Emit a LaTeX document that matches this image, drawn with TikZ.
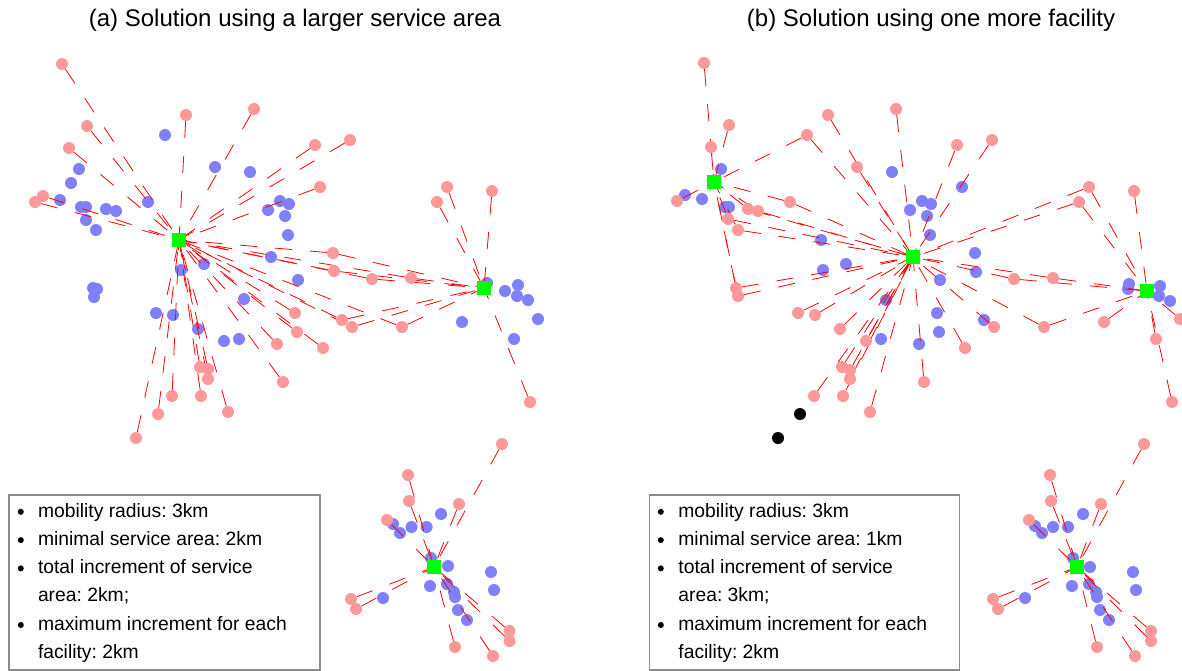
\documentclass[tikz,border=0pt]{standalone}
\usepackage{fontspec}
\setmainfont{Liberation Sans}
\frenchspacing
\pgfdeclarelayer{blayer}
\pgfdeclarelayer{llayer}
\pgfsetlayers{blayer,llayer,main}
\definecolor{pinkpt}{RGB}{255,153,153}
\definecolor{bluept}{RGB}{128,128,255}
\definecolor{facgreen}{RGB}{0,255,0}
\definecolor{boxgray}{RGB}{140,140,140}
\tikzset{
  cust/.style={circle,inner sep=0pt,minimum size=12pt,draw=none},
  bluecust/.style={cust,fill=bluept},
  pinkcust/.style={cust,fill=pinkpt},
  blackcust/.style={cust,fill=black},
  facility/.style={rectangle,inner sep=0pt,minimum size=13.5pt,fill=facgreen,draw=none},
  link/.style={red,line width=0.8pt,dash pattern=on 17pt off 18pt},
  titletext/.style={font=\fontsize{24}{28}\selectfont,anchor=base,inner sep=0pt},
  legbox/.style={draw=boxgray,line width=1.5pt,rectangle,inner sep=0pt,anchor=north west},
  legtext/.style={font=\fontsize{19.3}{23}\selectfont,anchor=base west,inner sep=0pt},
  bullet/.style={circle,fill=black,inner sep=0pt,minimum size=6pt}
}
\begin{document}
\begin{tikzpicture}[x=1pt,y=-1pt]
\useasboundingbox (0,0) rectangle (1182,670);

% ---------- titles ----------
\node[titletext] (ta) at (295,26) {(a) Solution using a larger service area};
\node[titletext] (tb) at (931,26) {(b) Solution using one more facility};

% ---------- left panel ----------
\node[facility] (LF1) at (179,240) {};
\node[facility] (LF2) at (484,288) {};
\node[facility] (LF3) at (434,567) {};

\begin{pgfonlayer}{blayer}
\foreach [count=\i] \x/\y in {165/135,79/169,71/183,215/167,250/172,60/200,81/207,86/207,106/209,116/211,86/220,96/230,148/202,268/210,280/201,289/204,285/216,288/235,271/257,204/264,181/270,298/280,487/283,505/291,518/285,517/296,528/300,538/319,462/322,514/339,93/288,97/289,94/297,244/299,156/313,173/315,198/329,224/341,239/339,441/514,393/524,400/533,411.5/527,426.6/527,431/558,448/566,491/572,430/586,447/584,454/592,455/597,494/590,383/598,458/610,467/620}
  \node[bluecust] (lb\i) at (\x,\y) {};
\end{pgfonlayer}

\foreach [count=\i] \x/\y in {62/64,186/115,254/109,87/126,69/148,43/196,35/202,315/145,350/140,320/187,447/187,492/191,437/202,333/253,334/271,372/279,411/278,295/313,297/332,342/320,352/327,402/327,323/348,277/344,283/382,530/402,502/444,200/367,208/369,208/379,172/396,201/396,228/412,158/414,136/438,408/475,409/501,459/504,387/520,351/599,356/609,509.5/631,509.5/641,455/647,493/656}
  \node[pinkcust] (a\i) at (\x,\y) {};

\begin{pgfonlayer}{llayer}
\foreach \p/\f in {a1/LF1,a2/LF1,a3/LF1,a4/LF1,a5/LF1,a6/LF1,a7/LF1,a8/LF1,a9/LF1,a10/LF1,a14/LF1,a15/LF1,a16/LF1,a17/LF1,a18/LF1,a19/LF1,a20/LF1,a21/LF1,a22/LF1,a23/LF1,a24/LF1,a25/LF1,a28/LF1,a29/LF1,a30/LF1,a31/LF1,a32/LF1,a33/LF1,a34/LF1,a35/LF1,
  a11/LF2,a12/LF2,a13/LF2,a14/LF2,a15/LF2,a16/LF2,a17/LF2,a20/LF2,a21/LF2,a22/LF2,a26/LF2,
  a27/LF3,a36/LF3,a37/LF3,a38/LF3,a39/LF3,a40/LF3,a41/LF3,a42/LF3,a43/LF3,a44/LF3,a45/LF3}
  \draw[link] (\p) -- (\f);
\end{pgfonlayer}

\node[legbox,minimum width=311pt,minimum height=175pt] (legA) at (8,494) {};
\node[bullet] (ba1) at (20.8,511.8) {};
\node[legtext] (la1) at (37.8,517) {mobility radius: 3km};
\node[bullet] (ba2) at (20.8,540.1) {};
\node[legtext] (la2) at (37.8,545.3) {minimal service area: 2km};
\node[bullet] (ba3) at (20.8,568.4) {};
\node[legtext] (la3) at (37.8,573.6) {total increment of service};
\node[legtext] (la4) at (37.8,601.9) {area: 2km;};
\node[bullet] (ba5) at (20.8,625) {};
\node[legtext] (la5) at (37.8,630.2) {maximum increment for each};
\node[legtext] (la6) at (37.8,658.5) {facility: 2km};

% ---------- right panel ----------
\node[facility] (RG1) at (714,182) {};
\node[facility] (RG2) at (913,257) {};
\node[facility] (RG3) at (1147,291) {};
\node[facility] (RG4) at (1077,567) {};

\begin{pgfonlayer}{blayer}
\foreach [count=\i] \x/\y in {721/169,892/172,685/195,702/199,725/207,729/207,910/210,922/201,931/204,927/216,930/235,846/264,823/270,821/240,962/187,975/253,976/272,940/280,1129/284,1128/289,1160/286,1159/296,1170/301,937/313,939/332,984/320,919/344,886/300,881/339,1083/514,1035/526,1042/533,1053/527,1068/527,1073/558,1090/567,1133/572,1072/586,1089/584,1096/592,1097/597,1136/590,1025/598,1100/610,1109/620}
  \node[bluecust] (rb\i) at (\x,\y) {};
\end{pgfonlayer}

\foreach [count=\i] \x/\y in {704/63,828/115,896/109,729/125,711/147,807/135,857/167,677/201,748/209,758/211,728/219,738/230,790/202,957/145,992/140,1089/187,1134/191,1079/202,1014/279,1053/278,1180/319,1104/322,1156/339,994/327,1044/327,965/348,924/382,1172/402,1144/444,736/288,738/296,798/313,815/315,840/329,866/341,842/367,850/370,850/379,814/396,843/396,870/412,1050/475,1051/501,1101/504,1029/520,993/599,998/609,1151/631,1151/641,1097/647,1135/656}
  \node[pinkcust] (c\i) at (\x,\y) {};

\node[blackcust] (k1) at (800,414) {};
\node[blackcust] (k2) at (778,438) {};

\begin{pgfonlayer}{llayer}
\foreach \p/\f in {c1/RG1,c4/RG1,c5/RG1,c6/RG1,c8/RG1,c9/RG1,c10/RG1,c11/RG1,c12/RG1,c13/RG1,c30/RG1,c31/RG1,
  c2/RG2,c3/RG2,c6/RG2,c7/RG2,c9/RG2,c10/RG2,c11/RG2,c12/RG2,c13/RG2,c14/RG2,c15/RG2,c16/RG2,c18/RG2,c19/RG2,c20/RG2,c24/RG2,c25/RG2,c26/RG2,c27/RG2,c30/RG2,c31/RG2,c32/RG2,c33/RG2,c34/RG2,c35/RG2,c36/RG2,c37/RG2,c38/RG2,c39/RG2,c40/RG2,c41/RG2,
  c16/RG3,c17/RG3,c18/RG3,c19/RG3,c20/RG3,c21/RG3,c22/RG3,c23/RG3,c25/RG3,c28/RG3,
  c29/RG4,c42/RG4,c43/RG4,c44/RG4,c45/RG4,c46/RG4,c47/RG4,c48/RG4,c49/RG4,c50/RG4,c51/RG4}
  \draw[link] (\p) -- (\f);
\end{pgfonlayer}

\node[legbox,minimum width=310pt,minimum height=175pt] (legB) at (648.7,494) {};
\node[bullet] (bb1) at (660.8,511.8) {};
\node[legtext] (lb1t) at (678.2,517) {mobility radius: 3km};
\node[bullet] (bb2) at (660.8,540.1) {};
\node[legtext] (lb2t) at (678.2,545.3) {minimal service area: 1km};
\node[bullet] (bb3) at (660.8,568.4) {};
\node[legtext] (lb3t) at (678.2,573.6) {total increment of service};
\node[legtext] (lb4t) at (678.2,601.9) {area: 3km;};
\node[bullet] (bb5) at (660.8,625) {};
\node[legtext] (lb5t) at (678.2,630.2) {maximum increment for each};
\node[legtext] (lb6t) at (678.2,658.5) {facility: 2km};
\end{tikzpicture}
\end{document}
